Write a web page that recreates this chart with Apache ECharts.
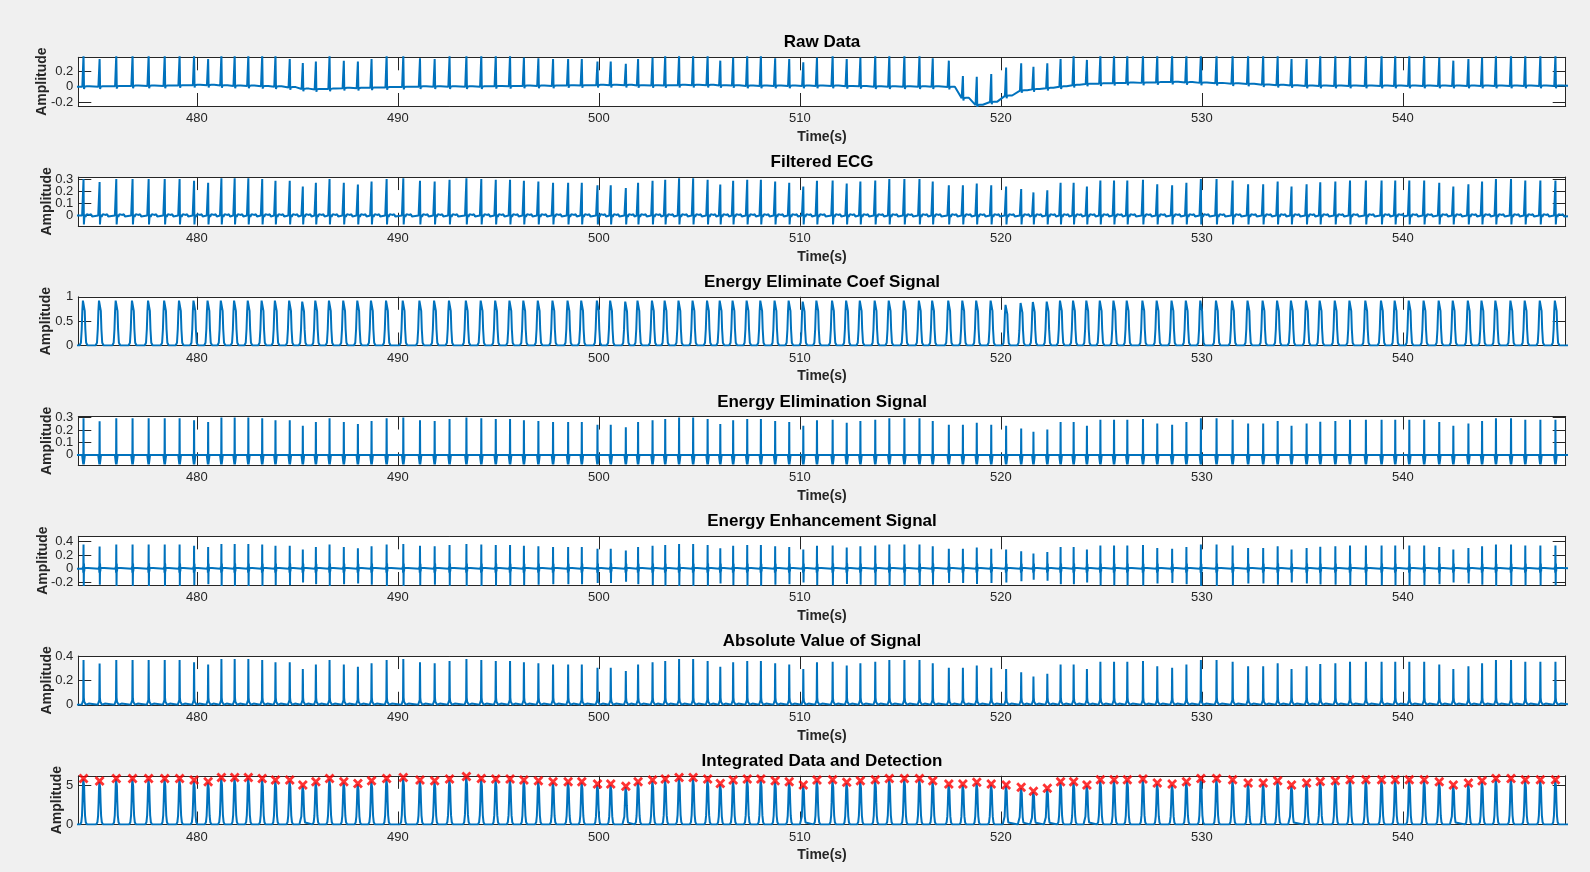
<!DOCTYPE html>
<html><head><meta charset="utf-8">
<script src="https://cdn.jsdelivr.net/npm/echarts@6/dist/echarts.min.js"></script>
<style>html,body{margin:0;padding:0;background:#f0f0f0}#c{width:1590px;height:872px}</style>
</head><body><div id="c"></div>
<script>
// ---------------- data ----------------
const beatTimes = [
474.36,475.16,475.99,476.80,477.60,478.40,479.14,479.86,480.56,481.22,481.88,482.56,483.25,483.91,484.62,485.27,485.92,486.60,487.31,488.01,488.69,489.44,490.27,491.10,491.83,492.57,
493.41,494.15,494.87,495.58,496.27,496.99,497.72,498.47,499.15,499.93,500.59,501.34,501.95,502.67,503.30,503.99,504.69,505.41,506.04,506.68,507.38,508.06,508.77,509.47,510.17,510.85,
511.63,512.33,513.01,513.75,514.45,515.20,515.95,516.61,517.41,518.11,518.80,519.52,520.26,521.01,521.62,522.31,522.97,523.62,524.28,524.95,525.63,526.29,527.07,527.78,528.52,529.23,
529.95,530.73,531.53,532.30,533.05,533.77,534.46,535.21,535.89,536.64,537.37,538.16,538.94,539.62,540.32,541.06,541.81,542.51,543.26,543.94,544.63,545.38,546.09,546.84,547.59];

// detected peaks of the integrated signal (red x markers)
const integratedPeaks = [
5.83,5.5,5.83,5.83,5.83,5.83,5.83,5.62,5.41,5.95,5.95,5.95,5.83,5.62,5.62,5.0,5.41,5.83,5.41,5.2,5.54,5.83,5.95,5.62,5.54,5.75,
6.08,5.83,5.75,5.75,5.62,5.54,5.41,5.41,5.41,5.12,5.12,4.83,5.41,5.62,5.75,5.95,5.95,5.75,5.2,5.62,5.75,5.75,5.54,5.41,5.0,5.62,
5.66,5.33,5.54,5.66,5.83,5.83,5.83,5.54,5.12,5.12,5.33,5.12,5.0,4.7,4.2,4.58,5.41,5.41,5.0,5.66,5.66,5.66,5.75,5.25,5.12,5.41,
5.83,5.83,5.66,5.25,5.25,5.54,5.0,5.25,5.45,5.54,5.66,5.66,5.66,5.66,5.66,5.66,5.41,5.0,5.25,5.54,5.83,5.83,5.66,5.66,5.66];

// relative QRS size of each beat (read from the filtered / energy panels)
const qrsScale = [
0.98,0.90,0.98,0.98,0.98,0.98,0.98,0.93,0.88,1.0,1.0,1.0,0.98,0.93,0.93,0.78,0.88,0.98,0.88,0.83,0.91,0.98,1.0,0.93,0.91,0.96,
1.0,0.98,0.96,0.96,0.93,0.91,0.88,0.88,0.88,0.81,0.81,0.74,0.88,0.93,0.96,1.0,1.0,0.96,0.83,0.93,0.96,0.96,0.91,0.88,0.78,0.93,
0.94,0.86,0.91,0.94,0.98,0.98,0.98,0.91,0.81,0.81,0.86,0.81,0.78,0.71,0.62,0.68,0.88,0.88,0.78,0.94,0.94,0.94,0.96,0.84,0.81,0.88,
0.98,0.98,0.94,0.84,0.84,0.91,0.78,0.84,0.89,0.91,0.94,0.94,0.94,0.94,0.94,0.94,0.88,0.78,0.84,0.91,0.98,0.98,0.94,0.94,0.94];

// raw data: baseline level at each beat and R-peak value
const rawBase = [
0.0,0.0,0.005,0.01,0.01,0.01,0.015,0.02,0.02,0.015,0.01,0.01,0.005,0.0,-0.01,-0.03,-0.035,-0.03,-0.02,-0.02,-0.015,-0.01,-0.005,0.0,0.0,0.0,
0.0,0.0,0.005,0.005,0.01,0.01,0.01,0.015,0.015,0.02,0.02,0.02,0.015,0.015,0.015,0.02,0.02,0.02,0.015,0.015,0.01,0.01,0.01,0.01,0.01,0.01,
0.01,0.005,0.005,0.0,0.0,0.0,0.0,0.0,-0.005,-0.15,-0.24,-0.2,-0.12,-0.05,-0.035,-0.02,0.0,0.02,0.035,0.04,0.045,0.05,0.05,0.055,0.06,0.055,
0.05,0.045,0.04,0.035,0.025,0.02,0.015,0.01,0.01,0.01,0.01,0.01,0.01,0.01,0.01,0.01,0.01,0.01,0.01,0.01,0.01,0.01,0.01,0.01,0.01];
const rawPeak = [
0.42,0.36,0.42,0.42,0.42,0.42,0.42,0.42,0.36,0.42,0.42,0.42,0.42,0.42,0.36,0.31,0.33,0.42,0.34,0.33,0.36,0.42,0.42,0.37,0.36,0.40,
0.42,0.42,0.42,0.42,0.38,0.37,0.36,0.36,0.36,0.33,0.33,0.30,0.36,0.38,0.42,0.42,0.42,0.42,0.34,0.38,0.42,0.42,0.37,0.36,0.32,0.38,
0.42,0.36,0.38,0.42,0.42,0.42,0.42,0.37,0.34,0.14,0.13,0.165,0.25,0.305,0.26,0.305,0.36,0.42,0.35,0.42,0.42,0.42,0.42,0.42,0.42,0.42,
0.42,0.42,0.42,0.42,0.42,0.40,0.36,0.36,0.40,0.40,0.42,0.42,0.42,0.42,0.42,0.42,0.38,0.34,0.36,0.38,0.42,0.42,0.42,0.42,0.42];

// energy eliminate coefficient peaks
const coefPeaks = [
0.95,0.95,0.95,0.95,0.95,0.95,0.95,0.95,0.95,0.95,0.95,0.95,0.95,0.95,0.95,0.93,0.95,0.95,0.95,0.95,0.95,0.95,0.95,0.95,0.95,0.95,
0.95,0.95,0.95,0.95,0.95,0.95,0.95,0.95,0.95,0.95,0.95,0.93,0.95,0.95,0.95,0.95,0.95,0.95,0.95,0.95,0.95,0.95,0.95,0.95,0.93,0.95,
0.95,0.95,0.95,0.95,0.95,0.95,0.95,0.95,0.95,0.95,0.95,0.95,0.86,0.90,0.92,0.93,0.95,0.95,0.95,0.95,0.95,0.95,0.95,0.95,0.95,0.95,
0.95,0.95,0.95,0.95,0.95,0.95,0.95,0.95,0.95,0.95,0.95,0.95,0.95,0.95,0.95,0.95,0.95,0.95,0.95,0.95,0.95,0.95,0.95,0.95,0.95];

// typical R-peak height in each derived panel
const filteredPeak = 0.31;
const eliminationPeak = 0.30;
const enhancementPeak = 0.36;
const absolutePeak = 0.38;

const panelTitles = ['Raw Data','Filtered ECG','Energy Eliminate Coef Signal','Energy Elimination Signal',
  'Energy Enhancement Signal','Absolute Value of Signal','Integrated Data and Detection'];
const xTicks = [480,490,500,510,520,530,540];
const xRange = [474.1, 548.1];
const yTicks = [[-0.2,0,0.2],[0,0.1,0.2,0.3],[0,0.5,1],[0,0.1,0.2,0.3],[-0.2,0,0.2,0.4],[0,0.2,0.4],[0,5]];
const yRanges = [[-0.252,0.384],[-0.085,0.32],[0,1],[-0.083,0.308],[-0.238,0.473],[0,0.405],[0,6.16]];

// ---------------- beat shapes: [dt, peakFactor, offset] ----------------
const shapes = {
  raw: [[-0.06,0,0],[-0.03,0,-0.015],[0,1,0],[0.025,0,-0.03],[0.05,0,0],[0.15,0,0.005],[0.22,0,0.028],[0.3,0,0.005],[0.36,0,0]],
  filt: [[-0.07,0,0],[-0.04,0,0.012],[-0.02,0,-0.015],[0,1,0],[0.018,0,-0.075],[0.04,0,-0.02],[0.065,0,0.008],[0.1,0,-0.01],[0.16,0,0.012],[0.22,0,0.02],[0.28,0,0.005],[0.33,0,-0.01],[0.38,0,0.01],[0.43,0,-0.008],[0.48,0,0.006]],
  coef: [[-0.2,0,0],[-0.13,0.06,0],[-0.09,0.35,0],[-0.06,0.75,0],[-0.03,0.97,0],[0,1,0],[0.03,0.97,0],[0.06,0.75,0],[0.09,0.35,0],[0.13,0.06,0],[0.2,0,0]],
  elim: [[-0.07,0,0],[-0.012,0,-0.075],[0,1,0],[0.012,0,-0.075],[0.07,0,0]],
  enh: [[-0.05,0,0],[-0.025,0,0.03],[-0.012,0,-0.06],[0,1,0],[0.012,-0.72,0],[0.024,0,0.07],[0.035,0,-0.04],[0.05,0,0.015],[0.07,0,0]],
  abs: [[-0.09,0,0],[-0.045,0,0.015],[-0.015,0,0.04],[0,1,0],[0.015,0,0.06],[0.035,0,0.025],[0.07,0,0.012],[0.12,0,0],[0.2,0,0.008],[0.26,0,0.01],[0.32,0,0]],
  integ: [[-0.17,0,0],[-0.11,0.05,0],[-0.075,0.2,0],[-0.05,0.5,0],[-0.03,0.83,0],[-0.012,0.98,0],[0,1,0],[0.012,0.98,0],[0.03,0.83,0],[0.05,0.5,0],[0.075,0.2,0],[0.11,0.05,0],[0.17,0,0]]
};

function wave(shape, amps, bases) {
  const b = i => bases ? bases[i] : 0;
  const pts = [[xRange[0] - 0.5, b(0)]];
  beatTimes.forEach((t, i) => {
    shape.forEach(([dt, k, c]) => pts.push([+(t + dt).toFixed(4), b(i) + c + k * amps[i]]));
  });
  pts.push([xRange[1] + 0.5, b(beatTimes.length - 1)]);
  return pts;
}
const scaled = s => qrsScale.map(q => q * s);
const waves = [
  wave(shapes.raw, rawPeak.map((p, i) => p - rawBase[i]), rawBase),
  wave(shapes.filt, scaled(filteredPeak)),
  wave(shapes.coef, coefPeaks),
  wave(shapes.elim, scaled(eliminationPeak)),
  wave(shapes.enh, scaled(enhancementPeak)),
  wave(shapes.abs, scaled(absolutePeak)),
  wave(shapes.integ, integratedPeaks)
];
const detections = beatTimes.map((t, i) => [t, integratedPeaks[i]]);

// ---------------- layout ----------------
const gridLeft = 78.3, gridRight = 24.3, top0 = 57.3, step = 119.75, gh = 48.7;
const nameGaps = [29, 24, 25, 24, 28.5, 24, 14];
const axisColor = '#262626';
const font = '"Liberation Sans", Arial, Helvetica, sans-serif';
const blue = '#0072BD';
const cx = gridLeft + (1590 - gridLeft - gridRight) / 2;

const grid = [], xAxis = [], yAxis = [], series = [], graphic = [];
const fmt = v => String(+v.toFixed(2));
for (let i = 0; i < 7; i++) {
  const top = top0 + step * i;
  grid.push({left: gridLeft, right: gridRight, top: top, height: gh, show: true, backgroundColor: '#fff', borderWidth: 0, containLabel: false});
  const tickCommon = {show: true, inside: true, length: 13, lineStyle: {color: axisColor, width: 1}, customValues: xTicks};
  xAxis.push({type: 'value', gridIndex: i, position: 'bottom', min: xRange[0], max: xRange[1],
    axisLine: {show: true, onZero: false, lineStyle: {color: axisColor, width: 1}},
    axisTick: tickCommon, splitLine: {show: false},
    axisLabel: {show: true, customValues: xTicks, color: axisColor, fontSize: 13, fontFamily: font, margin: 6, formatter: fmt},
    name: 'Time(s)', nameLocation: 'middle', nameGap: 24, nameMoveOverlap: false,
    nameTextStyle: {fontWeight: 'bold', fontSize: 14, fontFamily: font, color: axisColor}});
  xAxis.push({type: 'value', gridIndex: i, position: 'top', min: xRange[0], max: xRange[1],
    axisLine: {show: true, onZero: false, lineStyle: {color: axisColor, width: 1}},
    axisTick: tickCommon, splitLine: {show: false}, axisLabel: {show: false}});
  const yt = {show: true, inside: true, length: 13, lineStyle: {color: axisColor, width: 1}, customValues: yTicks[i]};
  yAxis.push({type: 'value', gridIndex: i, position: 'left', min: yRanges[i][0], max: yRanges[i][1],
    axisLine: {show: true, onZero: false, lineStyle: {color: axisColor, width: 1}},
    axisTick: yt, splitLine: {show: false},
    axisLabel: {show: false},
    name: 'Amplitude', nameLocation: 'middle', nameGap: nameGaps[i], nameRotate: 90, nameMoveOverlap: false,
    nameTextStyle: {fontWeight: 'bold', fontSize: 14, fontFamily: font, color: axisColor}});
  yAxis.push({type: 'value', gridIndex: i, position: 'right', min: yRanges[i][0], max: yRanges[i][1],
    axisLine: {show: true, onZero: false, lineStyle: {color: axisColor, width: 1}},
    axisTick: yt, splitLine: {show: false}, axisLabel: {show: false}});
  series.push({type: 'line', xAxisIndex: 2 * i, yAxisIndex: 2 * i, data: waves[i], showSymbol: false, symbol: 'none',
    clip: true, sampling: null, lineStyle: {color: blue, width: 2}, itemStyle: {color: blue}, z: 2, silent: true});
  graphic.push({type: 'text', x: cx, y: top - 14.5, silent: true,
    style: {text: panelTitles[i], font: 'bold 17px ' + font, fill: '#000', align: 'center', verticalAlign: 'middle'}});
}
series.push({type: 'scatter', xAxisIndex: 12, yAxisIndex: 12, data: detections, clip: false,
  symbol: 'path://M2,0 L5,3 L8,0 L10,2 L7,5 L10,8 L8,10 L5,7 L2,10 L0,8 L3,5 L0,2 Z',
  symbolSize: 10, itemStyle: {color: '#FF0000'}, z: 5, silent: true});

const chart = echarts.init(document.getElementById('c'), null, {renderer: 'canvas'});
chart.setOption({animation: false, backgroundColor: '#f0f0f0', grid, xAxis, yAxis, series, graphic});

// y tick labels placed through the y axes' own scales
const labelGraphics = graphic.slice();
for (let i = 0; i < 7; i++) {
  yTicks[i].forEach(v => {
    const py = chart.convertToPixel({yAxisIndex: 2 * i}, v);
    labelGraphics.push({type: 'text', x: gridLeft - 5, y: py, silent: true,
      style: {text: fmt(v), font: '13px ' + font, fill: axisColor, align: 'right', verticalAlign: 'middle'}});
  });
}
chart.setOption({graphic: labelGraphics});
</script></body></html>
